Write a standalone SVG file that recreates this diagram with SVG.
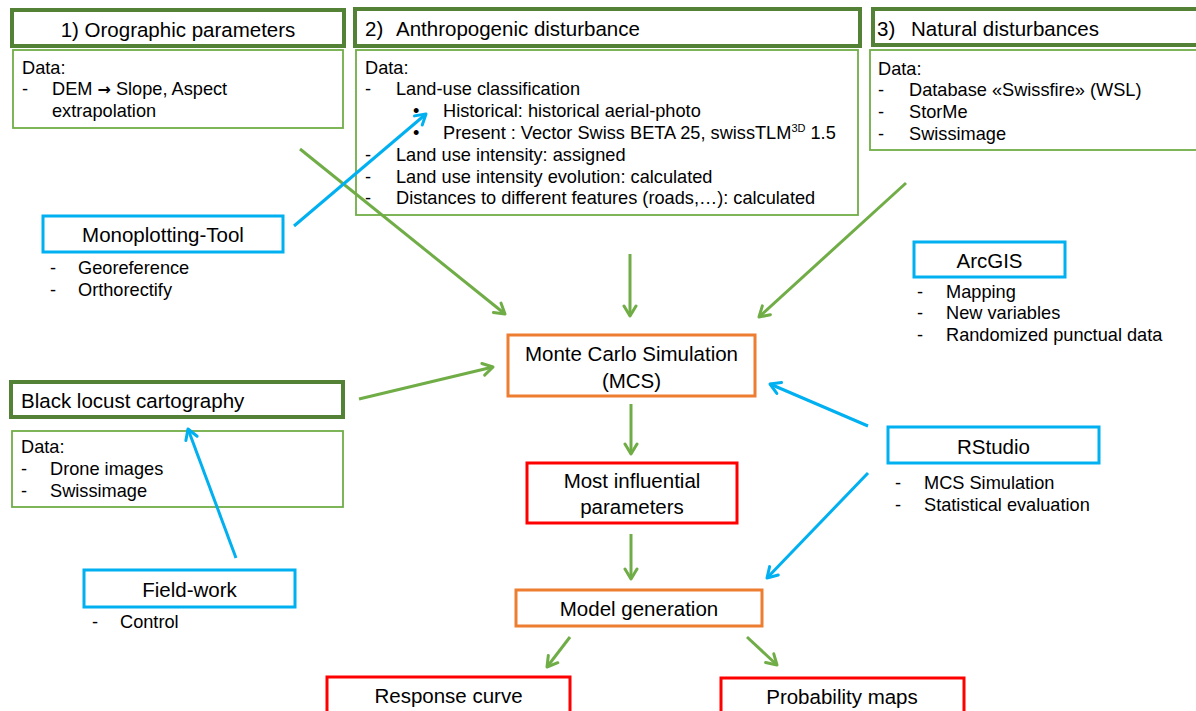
<svg xmlns="http://www.w3.org/2000/svg" width="1196" height="711" viewBox="0 0 1196 711">
<style>
text{font-family:"Liberation Sans",Arial,sans-serif;fill:#000}
.t{font-size:20.5px}
.b{font-size:18.2px}
.c{text-anchor:middle}
.title{fill:#fff;stroke:#538135;stroke-width:4}
.data{fill:#fff;stroke:#70ad47;stroke-width:1.8}
.tool{fill:#fff;stroke:#00b0f0;stroke-width:3}
.orange{fill:#fff;stroke:#ed7d31;stroke-width:3}
.red{fill:#fff;stroke:#ff0000;stroke-width:3}
.ga{stroke:#70ad47;stroke-width:3;fill:none;marker-end:url(#ag)}
.ba{stroke:#00b0f0;stroke-width:3;fill:none;marker-end:url(#ab)}
</style>
<defs>
<marker id="ag" markerUnits="userSpaceOnUse" markerWidth="16" markerHeight="16" viewBox="0 0 16 16" refX="13" refY="8" orient="auto">
<path d="M3,2 L13,8 L3,14" fill="none" stroke="#70ad47" stroke-width="3" stroke-linecap="round" stroke-linejoin="round"/>
</marker>
<marker id="ab" markerUnits="userSpaceOnUse" markerWidth="16" markerHeight="16" viewBox="0 0 16 16" refX="13" refY="8" orient="auto">
<path d="M3,2 L13,8 L3,14" fill="none" stroke="#00b0f0" stroke-width="3" stroke-linecap="round" stroke-linejoin="round"/>
</marker>
</defs>
<rect width="1196" height="711" fill="#fff"/>

<g id="orographic">
<rect class="title" x="12" y="10" width="332" height="36"/>
<text class="t c" x="178" y="37">1) Orographic parameters</text>
<rect class="data" x="13" y="50" width="330" height="78"/>
<text class="b" x="22" y="74">Data:</text>
<text class="b" x="22" y="95">-</text>
<text class="b" x="52" y="95">DEM <tspan font-family="DejaVu Sans" font-weight="bold" font-size="16">→</tspan> Slope, Aspect</text>
<text class="b" x="52" y="117">extrapolation</text>
</g>

<g id="anthropogenic">
<rect class="title" x="355" y="9" width="505" height="37"/>
<text class="t" x="365" y="36">2)</text>
<text class="t" x="396" y="36">Anthropogenic disturbance</text>
<rect class="data" x="356" y="50" width="502" height="165"/>
<text class="b" x="365" y="74">Data:</text>
<text class="b" x="365" y="95">-</text>
<text class="b" x="396" y="95">Land-use classification</text>
<text class="b" x="413" y="117">•</text>
<text class="b" x="443" y="117">Historical: historical aerial-photo</text>
<text class="b" x="413" y="139">•</text>
<text class="b" x="443" y="139">Present : Vector Swiss BETA 25, swissTLM<tspan font-size="11" dy="-7">3D</tspan><tspan dy="7"> 1.5</tspan></text>
<text class="b" x="365" y="161">-</text>
<text class="b" x="396" y="161">Land use intensity: assigned</text>
<text class="b" x="365" y="183">-</text>
<text class="b" x="396" y="183">Land use intensity evolution: calculated</text>
<text class="b" x="365" y="204">-</text>
<text class="b" x="396" y="204">Distances to different features (roads,…): calculated</text>
</g>

<g id="natural">
<rect class="title" x="873" y="9" width="335" height="36"/>
<text class="t" x="877" y="36">3)</text>
<text class="t" x="911" y="36">Natural disturbances</text>
<rect class="data" x="870" y="50" width="340" height="100"/>
<text class="b" x="878" y="75">Data:</text>
<text class="b" x="878" y="96">-</text>
<text class="b" x="909" y="96">Database «Swissfire» (WSL)</text>
<text class="b" x="878" y="118">-</text>
<text class="b" x="909" y="118">StorMe</text>
<text class="b" x="878" y="140">-</text>
<text class="b" x="909" y="140">Swissimage</text>
</g>

<g id="monoplotting">
<rect class="tool" x="43" y="216" width="240" height="36"/>
<text class="t c" x="163" y="242">Monoplotting-Tool</text>
<text class="b" x="50" y="274">-</text>
<text class="b" x="78" y="274">Georeference</text>
<text class="b" x="50" y="296">-</text>
<text class="b" x="78" y="296">Orthorectify</text>
</g>

<g id="blacklocust">
<rect class="title" x="11" y="382" width="332" height="35"/>
<text class="t" x="21" y="408">Black locust cartography</text>
<rect class="data" x="12" y="431" width="331" height="76"/>
<text class="b" x="21" y="453">Data:</text>
<text class="b" x="21" y="475">-</text>
<text class="b" x="50" y="475">Drone images</text>
<text class="b" x="21" y="497">-</text>
<text class="b" x="50" y="497">Swissimage</text>
</g>

<g id="fieldwork">
<rect class="tool" x="84" y="570" width="211" height="37"/>
<text class="t c" x="189.5" y="597">Field-work</text>
<text class="b" x="92" y="628">-</text>
<text class="b" x="120" y="628">Control</text>
</g>

<g id="mcs">
<rect class="orange" x="508" y="335" width="247" height="61"/>
<text class="t c" x="631.5" y="361">Monte Carlo Simulation</text>
<text class="t c" x="631.5" y="388">(MCS)</text>
</g>

<g id="influential">
<rect class="red" x="527" y="463" width="210" height="60"/>
<text class="t c" x="632" y="488">Most influential</text>
<text class="t c" x="632" y="514">parameters</text>
</g>

<g id="arcgis">
<rect class="tool" x="914" y="242" width="151" height="35"/>
<text class="t c" x="989.5" y="268">ArcGIS</text>
<text class="b" x="917" y="298">-</text>
<text class="b" x="946" y="298">Mapping</text>
<text class="b" x="917" y="319">-</text>
<text class="b" x="946" y="319">New variables</text>
<text class="b" x="917" y="341">-</text>
<text class="b" x="946" y="341">Randomized punctual data</text>
</g>

<g id="rstudio">
<rect class="tool" x="888" y="427" width="211" height="36"/>
<text class="t c" x="993.5" y="454">RStudio</text>
<text class="b" x="895" y="489">-</text>
<text class="b" x="924" y="489">MCS Simulation</text>
<text class="b" x="895" y="511">-</text>
<text class="b" x="924" y="511">Statistical evaluation</text>
</g>

<g id="modelgen">
<rect class="orange" x="516" y="590" width="246" height="36"/>
<text class="t c" x="639" y="616">Model generation</text>
</g>

<g id="response">
<rect class="red" x="327" y="677" width="243" height="50"/>
<text class="t c" x="448.5" y="703">Response curve</text>
</g>

<g id="probability">
<rect class="red" x="721" y="678" width="243" height="50"/>
<text class="t c" x="842" y="704">Probability maps</text>
</g>

<g id="connectors">
<line class="ga" x1="300" y1="149" x2="505" y2="314"/>
<line class="ga" x1="630" y1="254" x2="630" y2="316"/>
<line class="ga" x1="906" y1="183" x2="759" y2="317"/>
<line class="ga" x1="359" y1="399" x2="493" y2="367"/>
<line class="ga" x1="631" y1="404" x2="631" y2="454"/>
<line class="ga" x1="631" y1="534" x2="631" y2="579"/>
<line class="ga" x1="570" y1="637" x2="547" y2="667"/>
<line class="ga" x1="747" y1="637" x2="777" y2="665"/>
<line class="ba" x1="294" y1="226" x2="426" y2="114"/>
<line class="ba" x1="236" y1="558" x2="188" y2="429"/>
<line class="ba" x1="868" y1="426" x2="770" y2="384"/>
<line class="ba" x1="868" y1="473" x2="767" y2="578"/>
</g>
</svg>
